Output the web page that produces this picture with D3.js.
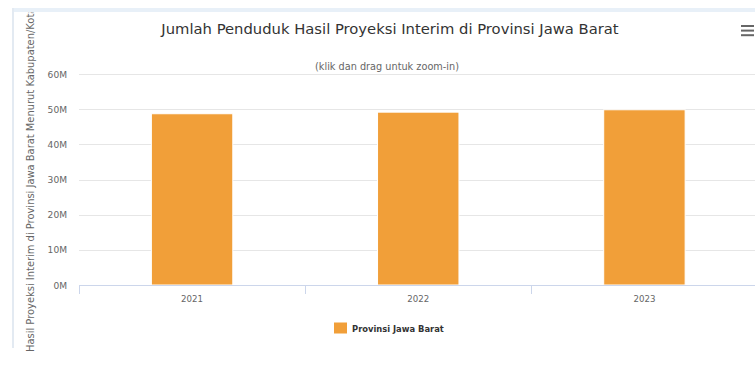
<!DOCTYPE html>
<html>
<head>
<meta charset="utf-8">
<script src="https://cdn.jsdelivr.net/npm/d3@7"></script>
<style>
  html, body { margin: 0; padding: 0; background: #fff; }
  svg { display: block; font-family: "DejaVu Sans", "Lucida Grande", sans-serif; }
</style>
</head>
<body>
<svg id="chart" width="755" height="381"></svg>
<script>
// ---- data ----
const categories = ["2021", "2022", "2023"];
const seriesName = "Provinsi Jawa Barat";
const values = [48700000, 49150000, 49830000];
const yTicks = [0, 10000000, 20000000, 30000000, 40000000, 50000000, 60000000];
const yTickLabels = ["0M", "10M", "20M", "30M", "40M", "50M", "60M"];
const titleText = "Jumlah Penduduk Hasil Proyeksi Interim di Provinsi Jawa Barat";
const subtitleText = "(klik dan drag untuk zoom-in)";
const yTitleText = "Hasil Proyeksi Interim di Provinsi Jawa Barat Menurut Kabupaten/Kota (Jiwa)";
const yTitleVisible = "Hasil Proyeksi Interim di Provinsi Jawa Barat Menurut Kabupaten/Kot";

// ---- layout ----
const W = 755, H = 381;
const plot = { left: 79, right: 757.5, top: 74, bottom: 285 };
const barColor = "#f19f39";

const svg = d3.select("#chart");

function fit(sel, target) {
  const w = sel.node().getComputedTextLength();
  const fs = parseFloat(sel.attr("font-size"));
  const nf = fs * target / w;
  sel.attr("font-size", nf);
  return nf;
}

// container decorations
svg.append("rect").attr("x", 13).attr("y", 8).attr("width", W - 13).attr("height", 4).attr("fill", "#e8f0f8");
svg.append("rect").attr("x", 12).attr("y", 8).attr("width", 2).attr("height", 340).attr("fill", "#e3eaf2");

// scales
const x = d3.scaleBand().domain(categories).range([plot.left, plot.right]).padding(0);
const y = d3.scaleLinear().domain([0, 60000000]).range([plot.bottom, plot.top]);

// gridlines
svg.append("g").selectAll("line").data(yTicks.filter(d => d > 0)).join("line")
  .attr("x1", plot.left).attr("x2", W)
  .attr("y1", d => Math.round(y(d)) + 0.5).attr("y2", d => Math.round(y(d)) + 0.5)
  .attr("stroke", "#e6e6e6").attr("stroke-width", 1);

// y labels
const yLab = svg.append("g").selectAll("text").data(yTicks).join("text")
  .attr("x", 67).attr("y", d => y(d) + 3.5)
  .attr("text-anchor", "end").attr("fill", "#666").attr("font-size", 9)
  .text((d, i) => yTickLabels[i]);
{
  const probe = svg.append("text").attr("font-size", 9).text(yTickLabels[6]);
  const fs = fit(probe, 19.4);
  probe.remove();
  yLab.attr("font-size", fs);
}

// bars
const barW = x.bandwidth() * 0.36;
svg.append("g").selectAll("rect").data(values).join("rect")
  .attr("x", (d, i) => x(categories[i]) + (x.bandwidth() - barW) / 2)
  .attr("y", d => y(d))
  .attr("width", barW)
  .attr("height", d => y(0) - y(d))
  .attr("fill", barColor)
  .attr("stroke", "#fff").attr("stroke-width", 1);

// x axis
const xAxis = d3.axisBottom(x).tickSize(0).tickPadding(0);
const gx = svg.append("g").attr("transform", `translate(0,${plot.bottom})`).call(xAxis);
gx.select(".domain").remove();
gx.selectAll(".tick line").remove();
svg.append("line").attr("x1", plot.left).attr("x2", W)
  .attr("y1", plot.bottom + 0.5).attr("y2", plot.bottom + 0.5)
  .attr("stroke", "#ccd6eb").attr("stroke-width", 1);
const boundaries = categories.map(c => x(c)).concat([x(categories[categories.length - 1]) + x.bandwidth()]);
svg.append("g").selectAll("line").data(boundaries).join("line")
  .attr("x1", d => Math.round(d) + 0.5).attr("x2", d => Math.round(d) + 0.5)
  .attr("y1", plot.bottom).attr("y2", plot.bottom + 9)
  .attr("stroke", "#ccd6eb").attr("stroke-width", 1);
gx.selectAll(".tick text")
  .attr("y", 17).attr("dy", null)
  .attr("fill", "#666").attr("font-size", 9)
  .attr("font-family", "DejaVu Sans");
{
  const probe = svg.append("text").attr("font-size", 9).text(categories[0]);
  const fs = fit(probe, 22);
  probe.remove();
  gx.selectAll(".tick text").attr("font-size", fs);
}

// title
const title = svg.append("text").attr("x", 390).attr("y", 34)
  .attr("text-anchor", "middle").attr("fill", "#333").attr("font-size", 15)
  .text(titleText);
fit(title, 458);

// subtitle
const sub = svg.append("text").attr("x", 387).attr("y", 70)
  .attr("text-anchor", "middle").attr("fill", "#666").attr("font-size", 10)
  .text(subtitleText);
fit(sub, 144);

// y axis title (clipped at container top)
svg.append("clipPath").attr("id", "ytclip").append("rect")
  .attr("x", 0).attr("y", 12.5).attr("width", 60).attr("height", 360);
{
  const probe = svg.append("text").attr("font-size", 9).text(yTitleVisible);
  const fs = fit(probe, 339);
  probe.remove();
  svg.append("g").attr("clip-path", "url(#ytclip)")
    .append("text")
    .attr("transform", "translate(34,352) rotate(-90)")
    .attr("fill", "#666").attr("font-size", fs)
    .text(yTitleText);
}

// menu icon
svg.append("g").selectAll("line").data([0, 1, 2]).join("line")
  .attr("x1", 741).attr("x2", 754)
  .attr("y1", d => 26 + d * 4.6).attr("y2", d => 26 + d * 4.6)
  .attr("stroke", "#666").attr("stroke-width", 2);

// legend
const lg = svg.append("g");
lg.append("rect").attr("x", 334).attr("y", 322.5).attr("width", 13).attr("height", 11).attr("fill", barColor);
const lt = lg.append("text").attr("x", 352).attr("y", 332)
  .attr("fill", "#333").attr("font-weight", "bold").attr("font-size", 10)
  .text(seriesName);
fit(lt, 92);
</script>
</body>
</html>
